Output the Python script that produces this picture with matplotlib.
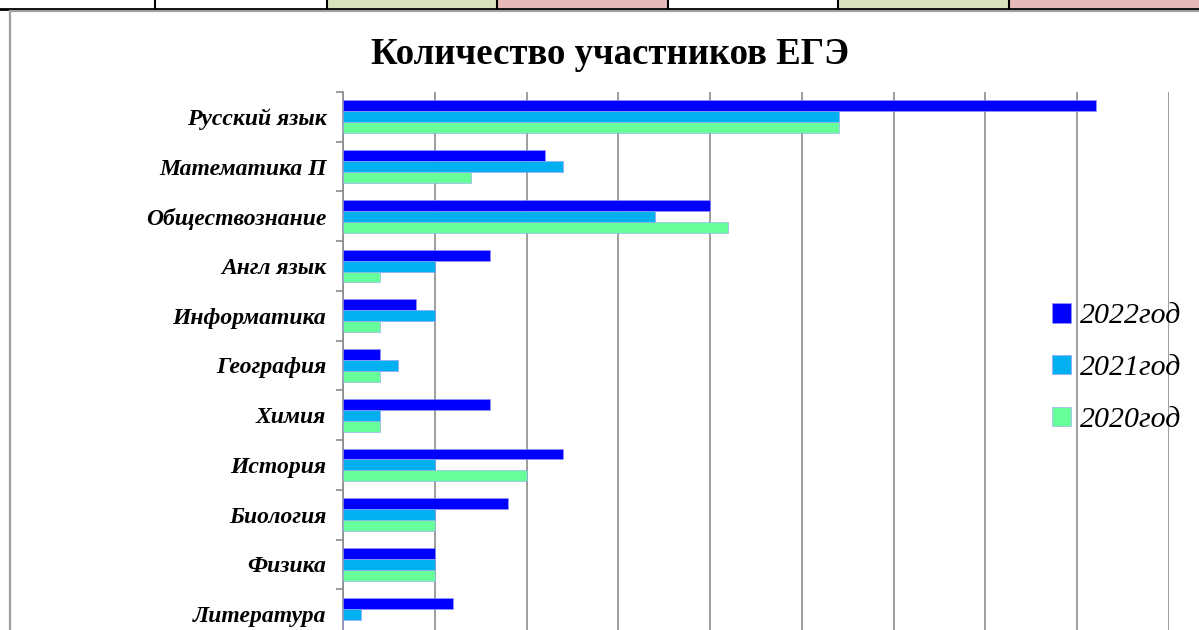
import numpy as np
import matplotlib.pyplot as plt
from matplotlib.patches import Rectangle
from matplotlib.lines import Line2D

# Data (number of exam participants)
subjects = ['Русский язык', 'Математика П', 'Обществознание', 'Англ язык',
            'Информатика', 'География', 'Химия', 'История', 'Биология',
            'Физика', 'Литература']
y2022 = [41, 11, 20, 8, 4, 2, 8, 12, 9, 5, 6]
y2021 = [27, 12, 17, 5, 5, 3, 2, 5, 5, 5, 1]
y2020 = [27, 7, 21, 2, 2, 2, 2, 10, 5, 5, 0]

series = [('2022год', y2022, '#0000ff'),
          ('2021год', y2021, '#00b0f0'),
          ('2020год', y2020, '#66ff99')]

fig = plt.figure(figsize=(11.99, 6.30), dpi=100)

# spreadsheet strip above the chart
cell_edges = [0, 155, 327, 497, 668, 838, 1009, 1199]
cell_colors = ['white', 'white', '#d8e4bc', '#e6b8b7', 'white', '#d8e4bc', '#e6b8b7']
for i, c in enumerate(cell_colors):
    x0 = cell_edges[i] / 1199
    w = (cell_edges[i + 1] - cell_edges[i]) / 1199
    fig.patches.append(Rectangle((x0, 622 / 630), w, 8 / 630, transform=fig.transFigure,
                                 facecolor=c, edgecolor='none', zorder=0))
    if i > 0:
        fig.lines.append(Line2D([x0, x0], [622 / 630, 1], transform=fig.transFigure,
                                color='black', lw=1.5))
fig.lines.append(Line2D([0, 1], [621.5 / 630, 621.5 / 630], transform=fig.transFigure,
                        color='black', lw=2))
# chart frame
fig.lines.append(Line2D([10.5 / 1199, 10.5 / 1199], [0, 619.5 / 630], transform=fig.transFigure,
                        color='#a0a0a0', lw=1.6))
fig.lines.append(Line2D([10.5 / 1199, 1], [619.5 / 630, 619.5 / 630], transform=fig.transFigure,
                        color='#a0a0a0', lw=1.6))

ax = fig.add_axes([343 / 1199, -9 / 630, (1169 - 343) / 1199, 547 / 630])

pos = np.arange(len(subjects))
h = 0.22
for k, (name, vals, col) in enumerate(series):
    ax.barh(pos + (k - 1) * h, vals, height=h, color=col, label=name, zorder=3,
            edgecolor='#9999ff', linewidth=0.4)

ax.set_xlim(0, 45)
ax.set_ylim(len(subjects) - 0.5, -0.5)
ax.set_xticks(np.arange(0, 46, 5))
ax.xaxis.grid(True, color='#8c8c8c', lw=1.2, zorder=0)
ax.tick_params(axis='x', length=0, labelbottom=False)
for s in ['top', 'right', 'bottom']:
    ax.spines[s].set_visible(False)
ax.spines['left'].set_color('#8c8c8c')
ax.spines['left'].set_linewidth(1.2)

ax.set_yticks(pos)
ax.set_yticklabels(subjects, fontfamily='Liberation Serif', fontstyle='italic',
                   fontweight='bold', fontsize=17)
ax.tick_params(axis='y', which='major', length=0, pad=12)
ax.set_yticks(np.arange(-0.5, len(subjects), 1), minor=True)
ax.tick_params(axis='y', which='minor', length=5, color='#8c8c8c', width=1.2)

fig.text(610 / 1199, 1 - 55 / 630, 'Количество участников ЕГЭ', ha='center', va='center',
         fontfamily='Liberation Serif', fontweight='bold', fontsize=26.5)

fig.legend(loc='center left', bbox_to_anchor=(1052 / 1199, 1 - 368 / 630), frameon=False,
           prop={'family': 'Liberation Serif', 'style': 'italic', 'size': 21.5},
           handlelength=0.63, handleheight=0.63, handletextpad=0.3, labelspacing=0.85,
           borderpad=0, borderaxespad=0)

fig.savefig('out.png', dpi=100)
